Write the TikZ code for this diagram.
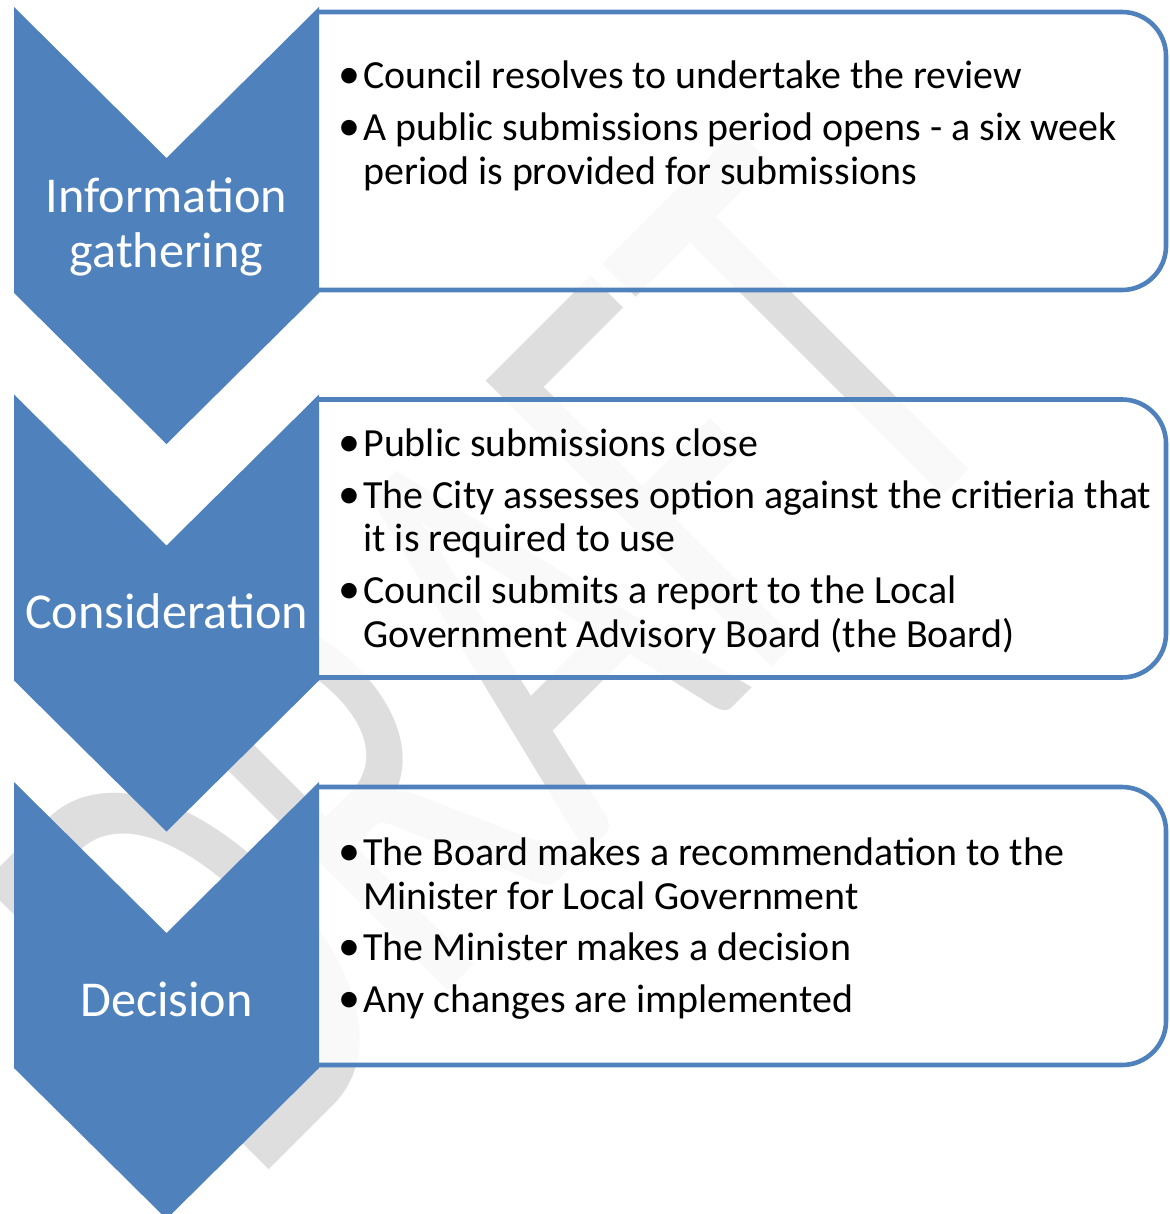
\documentclass[tikz,border=0pt]{standalone}
\usepackage{fontspec}
\setmainfont{Carlito}
\newfontfamily\wmfont[Kerning=Off]{Carlito}
\definecolor{chev}{RGB}{79,129,189}
\definecolor{wmgray}{RGB}{222,222,222}
\begin{document}
\begin{tikzpicture}[x=0.5pt,y=-0.5pt,
  chevron/.style={fill=chev, draw=none},
  panel/.style={draw=chev, line width=2.3pt, fill=white, fill opacity=0.82, rounded corners=22pt},
  lbl/.style={text=white, font=\fontsize{25.1}{27}\selectfont, inner sep=0pt, anchor=base},
  itm/.style={font=\fontsize{19.95}{22}\selectfont, inner sep=0pt, anchor=base west},
  bul/.style={font=\fontsize{22}{22}\selectfont, inner sep=0pt, anchor=base}]
\useasboundingbox (0,0) rectangle (1170,1214);
% watermark
\node[anchor=base west, inner sep=0pt, rotate=45, yscale=1.537, text=wmgray,
      font=\wmfont\fontsize{205}{205}\selectfont] (wmark) at (249,1190) {DRAFT};
% panels
\draw[panel] (319,12) -- (1166,12) -- (1166,290) -- (319,290);
\draw[panel] (319,399.5) -- (1166,399.5) -- (1166,677.5) -- (319,677.5);
\draw[panel] (319,787) -- (1166,787) -- (1166,1065) -- (319,1065);
% chevrons
\foreach \y in {7,394.5,782}{
  \fill[chevron] (14,\y) -- (166.5,\y+151) -- (319,\y) -- (319,\y+286) -- (166.5,\y+437) -- (14,\y+286) -- cycle;
}
% labels
\node[lbl] (l1a) at (166.5,213) {Information};
\node[lbl] (l1b) at (166.5,267) {gathering};
\node[lbl] (l2) at (166.5,628) {Consideration};
\node[lbl] (l3) at (166.5,1016) {Decision};
% box 1
\node[bul] (d1a) at (349,89) {•};
\node[itm] (t1a) at (363,89) {Council resolves to undertake the review};
\node[bul] (d1b) at (349,141) {•};
\node[itm] (t1b) at (363,141) {A public submissions period opens - a six week};
\node[itm] (t1c) at (363,185) {period is provided for submissions};
% box 2
\node[bul] (d2a) at (349,456) {•};
\node[itm] (t2a) at (363,456) {Public submissions close};
\node[bul] (d2b) at (349,508) {•};
\node[itm] (t2b) at (363,508) {The City assesses option against the critieria that};
\node[itm] (t2c) at (363,551) {it is required to use};
\node[bul] (d2c) at (349,603) {•};
\node[itm] (t2d) at (363,603) {Council submits a report to the Local};
\node[itm] (t2e) at (363,647) {Government Advisory Board (the Board)};
% box 3
\node[bul] (d3a) at (349,865) {•};
\node[itm] (t3a) at (363,865) {The Board makes a recommendation to the};
\node[itm] (t3b) at (363,909) {Minister for Local Government};
\node[bul] (d3b) at (349,960) {•};
\node[itm] (t3c) at (363,960) {The Minister makes a decision};
\node[bul] (d3c) at (349,1012) {•};
\node[itm] (t3d) at (363,1012) {Any changes are implemented};
\end{tikzpicture}
\end{document}
